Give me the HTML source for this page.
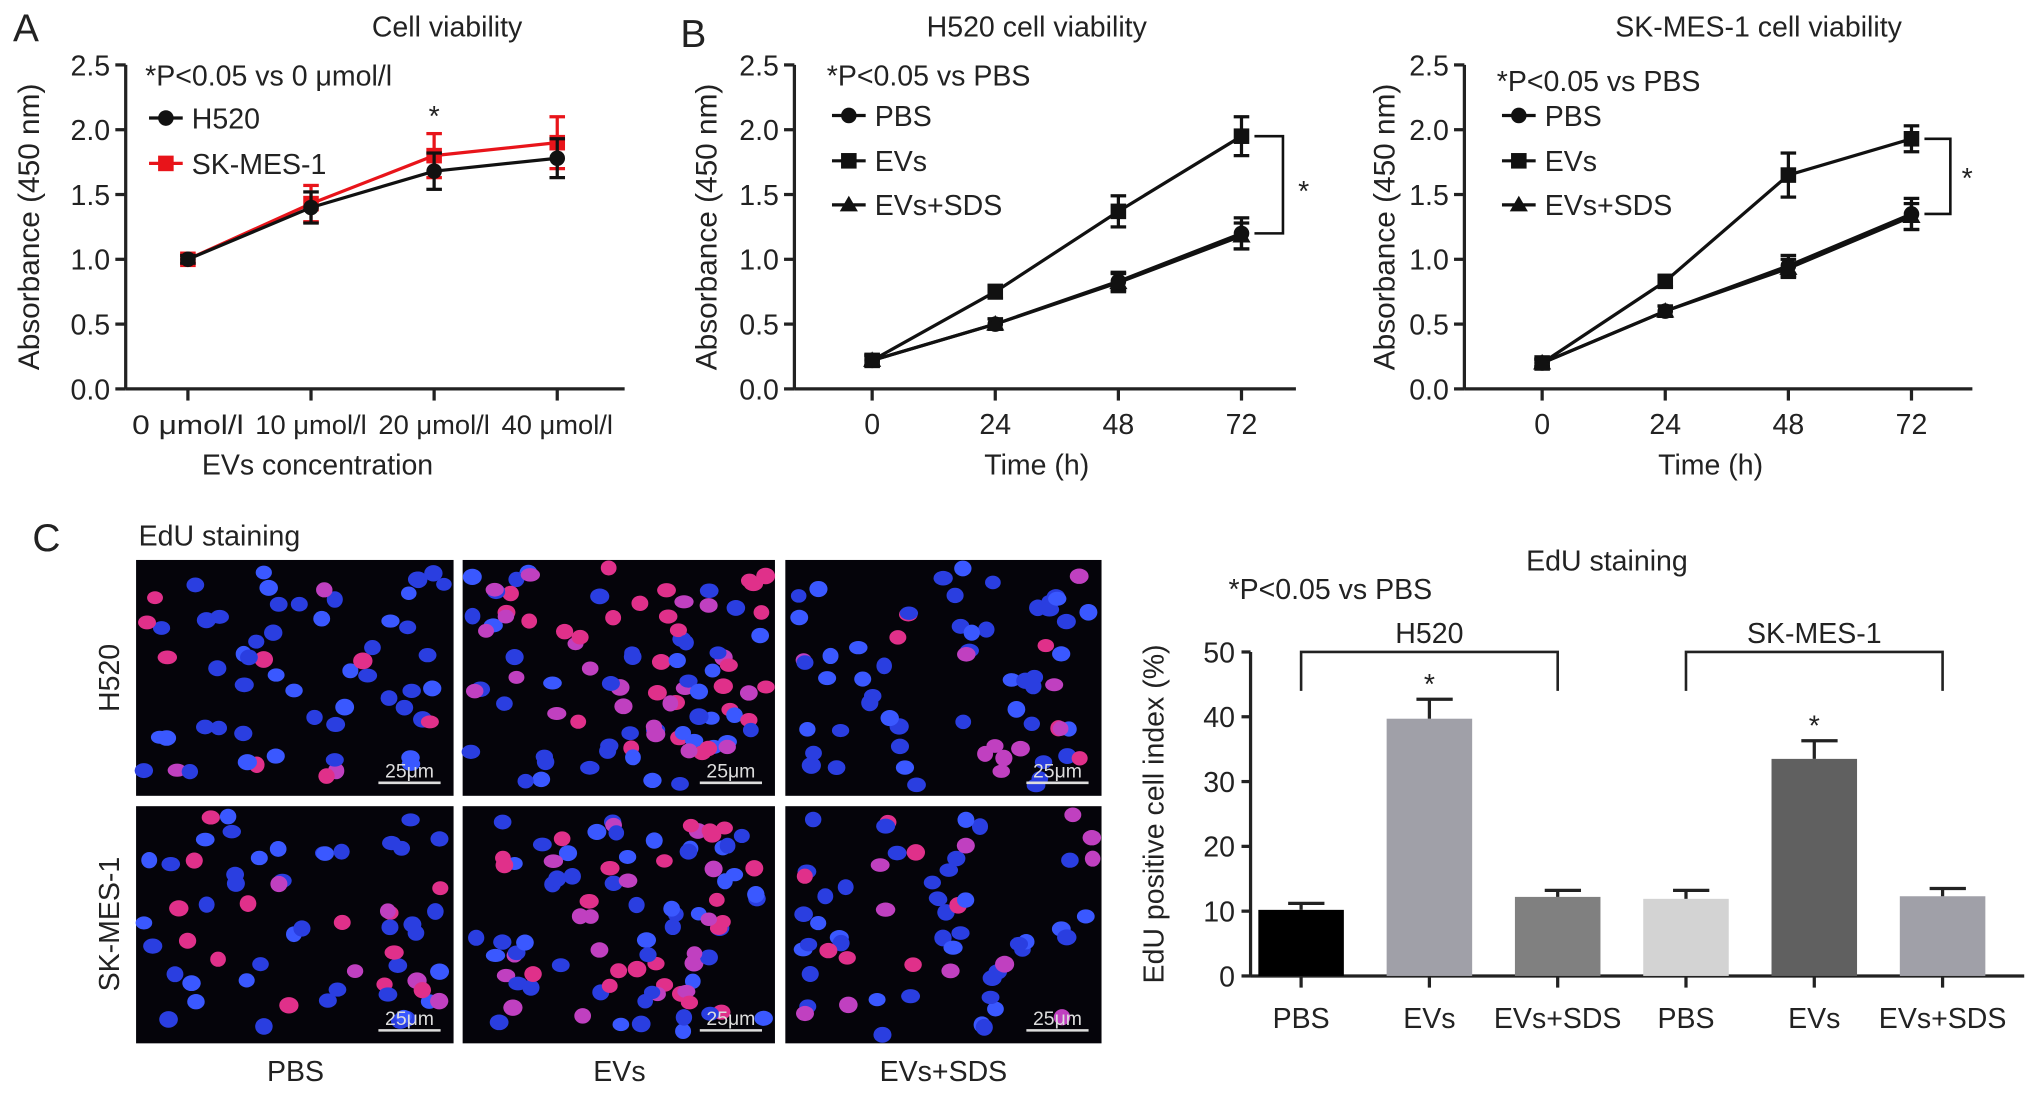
<!DOCTYPE html>
<html><head><meta charset="utf-8"><style>
html,body{margin:0;padding:0;background:#fff;width:2032px;height:1094px;overflow:hidden}
svg{display:block}
text{font-family:"Liberation Sans",sans-serif;fill:#222}
</style></head><body>
<svg id="fig" width="2032" height="1094" viewBox="0 0 1568 844" xmlns="http://www.w3.org/2000/svg"></svg>
<script>
// ---- Panel A data ----
const concCats = ["0 \u03bcmol/l","10 \u03bcmol/l","20 \u03bcmol/l","40 \u03bcmol/l"];
const h520Vals = [1.0,1.4,1.68,1.78];
const h520Err = [0.03,0.12,0.14,0.15];
const skmesVals = [1.0,1.43,1.8,1.9];
const skmesErr = [0.03,0.14,0.17,0.2];
const absTicks = ["0.0","0.5","1.0","1.5","2.0","2.5"];
// ---- Panel B data ----
const timeCats = ["0","24","48","72"];
const b1Pbs = [0.22,0.5,0.83,1.2];
const b1PbsErr = [0.04,0.04,0.07,0.12];
const b1Evs = [0.22,0.75,1.37,1.95];
const b1EvsErr = [0.04,0.05,0.12,0.15];
const b1Sds = [0.22,0.5,0.82,1.18];
const b1SdsErr = [0.04,0.04,0.07,0.1];
const b2Pbs = [0.2,0.6,0.95,1.35];
const b2PbsErr = [0.03,0.04,0.08,0.12];
const b2Evs = [0.2,0.83,1.65,1.93];
const b2EvsErr = [0.03,0.04,0.17,0.1];
const b2Sds = [0.2,0.6,0.93,1.33];
const b2SdsErr = [0.03,0.04,0.07,0.1];
// ---- Panel C bar data ----
const edCats = ["PBS","EVs","EVs+SDS","PBS","EVs","EVs+SDS"];
const edVals = [10.2,39.7,12.2,11.9,33.5,12.3];
const edErr = [1.0,3.0,1.0,1.3,2.8,1.2];
const edTicks = ["0","10","20","30","40","50"];

const NS="http://www.w3.org/2000/svg";
const svg=document.getElementById('fig');
function el(tag,attrs,parent){const e=document.createElementNS(NS,tag);for(const k in attrs)e.setAttribute(k,attrs[k]);(parent||svg).appendChild(e);return e;}
function txt(x,y,s,size,anchor,name,extra){const t=el('text',Object.assign({x:x,y:y,'font-size':size,'text-anchor':anchor||'start'},extra||{}));t.textContent=s;


return t;}

function marker(g,type,x,y,color){
  let m;
  if(type==='circle') m=el('circle',{cx:x,cy:y,r:6,fill:color},g);
  else if(type==='square') m=el('rect',{x:x-6,y:y-6,width:12,height:12,fill:color},g);
  else m=el('polygon',{points:`${x},${y-7} ${x+7},${y+5} ${x-7},${y+5}`,fill:color},g);
  return m;
}
function lineChart(o){
  const g=el('g',{});
  
  
  const ys=v=>o.y0-(v/2.5)*(o.y0-o.y1);
  const xs=i=>o.xt[0]+i*(o.xt[1]-o.xt[0]);
  const ya=el('line',{x1:o.ax,y1:o.y1,x2:o.ax,y2:o.y0,stroke:'#222','stroke-width':2.5},g);
  
  
  const xa=el('line',{x1:o.ax,y1:o.y0,x2:o.xEnd,y2:o.y0,stroke:'#222','stroke-width':2.5},g);
  
  
  absTicks.forEach((t,i)=>{const v=i*0.5;const y=ys(v);
    el('line',{x1:o.ax-8,y1:y,x2:o.ax,y2:y,stroke:'#222','stroke-width':2.5},g);
    txt(o.ax-12,y+8,t,22,'end','y-tick-label');});
  o.cats.forEach((c,i)=>{const x=xs(i);
    el('line',{x1:x,y1:o.y0,x2:x,y2:o.y0+9,stroke:'#222','stroke-width':2.5},g);
    const ex=o.tickLen?{textLength:o.tickLen,lengthAdjust:'spacingAndGlyphs'}:{};
    txt(x,o.y0+35,c,o.tickSize||22,'middle','x-tick-label',ex);});
  o.series.forEach(s=>{
    const sg=el('g',{},g);
    
    
    el('polyline',{points:s.vals.map((v,i)=>xs(i)+','+ys(v)).join(' '),fill:'none',stroke:s.color,'stroke-width':2.5},sg);
    s.vals.forEach((v,i)=>{const x=xs(i);
      el('line',{x1:x,y1:ys(v-s.err[i]),x2:x,y2:ys(v+s.err[i]),stroke:s.color,'stroke-width':2.5},sg);
      el('line',{x1:x-6,y1:ys(v+s.err[i]),x2:x+6,y2:ys(v+s.err[i]),stroke:s.color,'stroke-width':2.5},sg);
      el('line',{x1:x-6,y1:ys(v-s.err[i]),x2:x+6,y2:ys(v-s.err[i]),stroke:s.color,'stroke-width':2.5},sg);
      const m=marker(sg,s.marker,x,ys(v),s.color);
      
      
    });
  });
  return {g,xs,ys};
}
function legendEntry(x,y,type,color,label){
  const g=el('g',{});
  
  
  el('line',{x1:x-13,y1:y,x2:x+13,y2:y,stroke:color,'stroke-width':2.5},g);
  marker(g,type,x,y,color);
  txt(x+20,y+8,label,22,'start','legend-label');
}

// Panel A
txt(10,32,"A",30,'start','panel-label-a');
txt(345,28,"Cell viability",22,'middle','chart-title-a');
txt(22,183,"Absorbance (450 nm)",23,'middle','y-axis-title-a',{transform:'rotate(-90 22 175)'});
const A=lineChart({name:'cell-viability-chart',ax:97,y0:300,y1:50,xEnd:482,xt:[145,240],cats:concCats,tickSize:21,tickLen:86,
  series:[{name:'series-sk-mes-1',vals:skmesVals,err:skmesErr,color:'#e8141a',marker:'square'},
          {name:'series-h520',vals:h520Vals,err:h520Err,color:'#111',marker:'circle'}]});
txt(A.xs(2),A.ys(skmesVals[2]+skmesErr[2])-6,"*",22,'middle','significance-star');
txt(112,66,"*P<0.05 vs 0 \u03bcmol/l",22,'start','significance-note-a');
legendEntry(128,91,'circle','#111',"H520");
legendEntry(128,126,'square','#e8141a',"SK-MES-1");
txt(245,366,"EVs concentration",22,'middle','x-axis-title-a');

// Panel B1
txt(525,36,"B",30,'start','panel-label-b');
txt(800,28,"H520 cell viability",22,'middle','chart-title-b1');
txt(553,175,"Absorbance (450 nm)",23,'middle','y-axis-title-b1',{transform:'rotate(-90 553 175)'});
const B1=lineChart({name:'h520-viability-chart',ax:613,y0:300,y1:50,xEnd:1000,xt:[673,768],cats:timeCats,
  series:[{name:'series-pbs',vals:b1Pbs,err:b1PbsErr,color:'#111',marker:'circle'},
          {name:'series-evs',vals:b1Evs,err:b1EvsErr,color:'#111',marker:'square'},
          {name:'series-evs-sds',vals:b1Sds,err:b1SdsErr,color:'#111',marker:'triangle'}]});
el('polyline',{points:`${B1.xs(3)+10},${B1.ys(b1Evs[3])} 990,${B1.ys(b1Evs[3])} 990,${B1.ys(b1Pbs[3])} ${B1.xs(3)+10},${B1.ys(b1Pbs[3])}`,fill:'none',stroke:'#111','stroke-width':2});
txt(1006,155,"*",22,'middle','significance-star');
txt(638,66,"*P<0.05 vs PBS",22,'start','significance-note-b1');
legendEntry(655,89,'circle','#111',"PBS");
legendEntry(655,124,'square','#111',"EVs");
legendEntry(655,158,'triangle','#111',"EVs+SDS");
txt(800,366,"Time (h)",22,'middle','x-axis-title-b1');

// Panel B2
txt(1357,28,"SK-MES-1 cell viability",22,'middle','chart-title-b2');
txt(1076,175,"Absorbance (450 nm)",23,'middle','y-axis-title-b2',{transform:'rotate(-90 1076 175)'});
const B2=lineChart({name:'sk-mes-1-viability-chart',ax:1130,y0:300,y1:50,xEnd:1522,xt:[1190,1285],cats:timeCats,
  series:[{name:'series-pbs',vals:b2Pbs,err:b2PbsErr,color:'#111',marker:'circle'},
          {name:'series-evs',vals:b2Evs,err:b2EvsErr,color:'#111',marker:'square'},
          {name:'series-evs-sds',vals:b2Sds,err:b2SdsErr,color:'#111',marker:'triangle'}]});
el('polyline',{points:`${B2.xs(3)+10},${B2.ys(b2Evs[3])} 1505,${B2.ys(b2Evs[3])} 1505,${B2.ys(b2Pbs[3])} ${B2.xs(3)+10},${B2.ys(b2Pbs[3])}`,fill:'none',stroke:'#111','stroke-width':2});
txt(1518,145,"*",22,'middle','significance-star');
txt(1155,70,"*P<0.05 vs PBS",22,'start','significance-note-b2');
legendEntry(1172,89,'circle','#111',"PBS");
legendEntry(1172,124,'square','#111',"EVs");
legendEntry(1172,158,'triangle','#111',"EVs+SDS");
txt(1320,366,"Time (h)",22,'middle','x-axis-title-b2');

// Panel C images
txt(25,425,"C",30,'start','panel-label-c');
txt(107,421,"EdU staining",22,'start','micrograph-title');
let seed=7;function rnd(){seed=(seed*16807)%2147483647;return seed/2147483647;}
const cols=[[105,350],[357,598],[606,850]], rows=[[432,614],[622,805]];
const density=[[60,95,65],[60,90,60]];
rows.forEach((r,ri)=>cols.forEach((c,ci)=>{
  const g=el('g',{});
  
  
  el('rect',{x:c[0],y:r[0],width:c[1]-c[0],height:r[1]-r[0],fill:'#05040a'},g);
  const n=density[ri][ci];
  const pinkFrac = ci===1?0.45:0.22;
  for(let i=0;i<n;i++){
    const x=c[0]+6+rnd()*(c[1]-c[0]-12), y=r[0]+6+rnd()*(r[1]-r[0]-12);
    const pink=rnd()<pinkFrac;
    const col=pink?(rnd()<0.5?'#e0308a':'#c040c0'):(rnd()<0.7?'#2a3ee0':'#3a58ff');
    el('ellipse',{cx:x,cy:y,rx:6+rnd()*1.5,ry:5+rnd()*1.5,fill:col},g);
  }
  el('line',{x1:c[1]-58,y1:r[1]-10,x2:c[1]-10,y2:r[1]-10,stroke:'#ddd','stroke-width':2},g);
  txt(c[1]-34,r[1]-14,"25\u03bcm",15,'middle','scale-bar-label',{style:'fill:#ddd'});
}));
txt(92,523,"H520",22,'middle','row-label-h520',{transform:'rotate(-90 92 523)'});
txt(92,713,"SK-MES-1",22,'middle','row-label-sk-mes-1',{transform:'rotate(-90 92 713)'});
txt(228,834,"PBS",22,'middle','column-label');
txt(478,834,"EVs",22,'middle','column-label');
txt(728,834,"EVs+SDS",22,'middle','column-label');

// Panel C bar chart
(function(){
  const g=el('g',{});
  
  
  const ax=965,y0=753,y1=503;
  const ys=v=>y0-(v/50)*(y0-y1);
  const xs=i=>1004+i*99;
  const colors=['#000','#a0a0a8','#808080','#d3d3d3','#606060','#a0a0a8'];
  el('line',{x1:ax,y1:y1,x2:ax,y2:y0,stroke:'#222','stroke-width':2.5},g);
  el('line',{x1:ax,y1:y0,x2:1562,y2:y0,stroke:'#222','stroke-width':2.5},g);
  edTicks.forEach((t,i)=>{const y=ys(i*10);
    el('line',{x1:ax-7,y1:y,x2:ax,y2:y,stroke:'#222','stroke-width':2.5},g);
    txt(ax-12,y+8,t,22,'end','y-tick-label');});
  edCats.forEach((c,i)=>{const x=xs(i);
    el('line',{x1:x,y1:y0,x2:x,y2:y0+9,stroke:'#222','stroke-width':2.5},g);
    txt(x,y0+40,c,22,'middle','x-tick-label');
    const b=el('rect',{x:x-33,y:ys(edVals[i]),width:66,height:y0-ys(edVals[i]),fill:colors[i]},g);
    
    
    const top=ys(edVals[i]+edErr[i]);
    el('line',{x1:x,y1:ys(edVals[i]),x2:x,y2:top,stroke:'#222','stroke-width':2.5},g);
    el('line',{x1:x-10,y1:top,x2:x+18,y2:top,stroke:'#222','stroke-width':2.5},g);
  });
  [1,4].forEach(i=>txt(xs(i),ys(edVals[i]+edErr[i])-4,"*",22,'middle','significance-star'));
  [[0,2,"H520"],[3,5,"SK-MES-1"]].forEach(b=>{
    el('polyline',{points:`${xs(b[0])},533 ${xs(b[0])},503 ${xs(b[1])},503 ${xs(b[1])},533`,fill:'none',stroke:'#222','stroke-width':2},g);
    txt((xs(b[0])+xs(b[1]))/2,496,b[2],22,'middle','group-label');
  });
  txt(1240,440,"EdU staining",22,'middle','chart-title-c');
  txt(948,462,"*P<0.05 vs PBS",22,'start','significance-note-c');
  txt(898,628,"EdU positive cell index (%)",22,'middle','y-axis-title-c',{transform:'rotate(-90 898 628)'});
})();
</script>
</body></html>
